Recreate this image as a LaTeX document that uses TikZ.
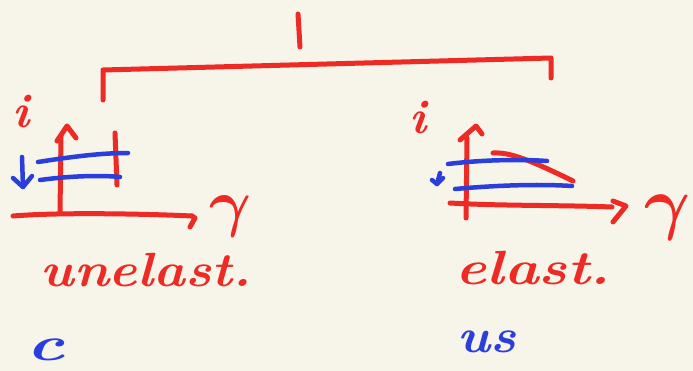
\documentclass[tikz,border=0pt]{standalone}
\usepackage{fontspec}
\usepackage{bm}
\definecolor{bgcream}{HTML}{F7F4EA}
\definecolor{penred}{HTML}{EE2A24}
\definecolor{penblue}{HTML}{2A3EDC}
\begin{document}
\begin{tikzpicture}[x=1pt,y=-1pt,
  redpen/.style={draw=penred,line width=5pt,line cap=round,line join=round},
  bluepen/.style={draw=penblue,line width=4.5pt,line cap=round,line join=round},
  redtext/.style={text=penred,inner sep=0pt,font=\fontsize{48}{56}\selectfont\bfseries\itshape},
  bluetext/.style={text=penblue,inner sep=0pt,font=\fontsize{48}{56}\selectfont\bfseries\itshape},
  gammatext/.style={text=penred,inner sep=0pt,font=\fontsize{20}{24}\selectfont}]
\fill[bgcream] (0,0) rectangle (693,371);
\useasboundingbox (0,0) rectangle (693,371);
% top tick and bracket
\coordinate (t1) at (298,14); \coordinate (t2) at (300,47);
\draw[redpen] (t1) -- (t2);
\coordinate (bl) at (103,100); \coordinate (bla) at (103,70);
\coordinate (bra) at (551,58); \coordinate (br) at (551,78);
\draw[redpen] (bl) -- (bla) -- (bra) -- (br);
% left chart
\node[redtext] (il) at (21,112) {i};
\coordinate (lv0) at (60,213); \coordinate (lv1) at (61,136);
\draw[redpen] (lv0) -- (lv1);
\coordinate (lh1) at (57,141); \coordinate (lh2) at (67,126); \coordinate (lh3) at (76,138);
\draw[redpen] (lh1) -- (lh2) -- (lh3);
\coordinate (la0) at (13,216); \coordinate (la1) at (192,216);
\draw[redpen] (la0) .. controls (60,212) and (150,214) .. (la1);
\coordinate (lk1) at (195,218); \coordinate (lk2) at (190,227);
\draw[redpen] (la1) -- (lk1) -- (lk2);
\coordinate (lb0) at (115,133); \coordinate (lb1) at (117,185);
\draw[redpen] (lb0) -- (lb1);
\coordinate (lu0) at (38,162); \coordinate (lu1) at (128,153);
\draw[bluepen] (lu0) .. controls (70,157) and (100,153) .. (lu1);
\coordinate (ll0) at (40,180); \coordinate (ll1) at (120,177);
\draw[bluepen] (ll0) .. controls (70,176) and (100,175) .. (ll1);
\coordinate (ld0) at (22,157); \coordinate (ld1) at (23,187);
\draw[bluepen] (ld0) -- (ld1);
\coordinate (ldh1) at (13,178); \coordinate (ldh2) at (32,176);
\draw[bluepen] (ldh1) -- (ld1) -- (ldh2);
\node[gammatext] (gl) at (231,216) {\scalebox{3.1}{$\bm{\gamma}$}};
% right chart
\node[redtext] (ir) at (418,118) {i};
\coordinate (rv0) at (466,218); \coordinate (rv1) at (467,138);
\draw[redpen] (rv0) -- (rv1);
\coordinate (rh1) at (460,140); \coordinate (rh2) at (476,126); \coordinate (rh3) at (482,134);
\draw[redpen] (rh1) -- (rh2) -- (rh3);
\coordinate (ra0) at (450,203); \coordinate (ra1) at (612,207);
\draw[redpen] (ra0) .. controls (500,206) and (560,205) .. (ra1);
\coordinate (rk0) at (613,201); \coordinate (rk1) at (626,206); \coordinate (rk2) at (613,222);
\draw[redpen] (rk0) -- (rk1) -- (rk2);
\coordinate (rs0) at (493,153); \coordinate (rs1) at (573,181);
\draw[redpen] (rs0) .. controls (510,152) and (530,160) .. (rs1);
\coordinate (ru0) at (448,164); \coordinate (ru1) at (547,161);
\draw[bluepen] (ru0) .. controls (480,160) and (520,159) .. (ru1);
\coordinate (rl0) at (455,189); \coordinate (rl1) at (572,186);
\draw[bluepen] (rl0) .. controls (500,185) and (540,184) .. (rl1);
\coordinate (rd0) at (440,173); \coordinate (rd1) at (437,184);
\draw[bluepen] (rd0) -- (rd1);
\coordinate (rdh1) at (432,180); \coordinate (rdh2) at (443,178);
\draw[bluepen] (rdh1) -- (rd1) -- (rdh2);
\node[gammatext] (gr) at (668,218) {\scalebox{3.4}{$\bm{\gamma}$}};
% labels
\node[redtext] (un) at (146,270) {\scalebox{1.12}[1]{unelast.}};
\node[redtext] (el) at (533,268) {\scalebox{1.22}[1]{elast.}};
\node[bluetext] (c) at (46,350) {\scalebox{1.5}[1]{c}};
\node[bluetext] (us) at (487,342) {\scalebox{1.1}[1]{us}};
\end{tikzpicture}
\end{document}
